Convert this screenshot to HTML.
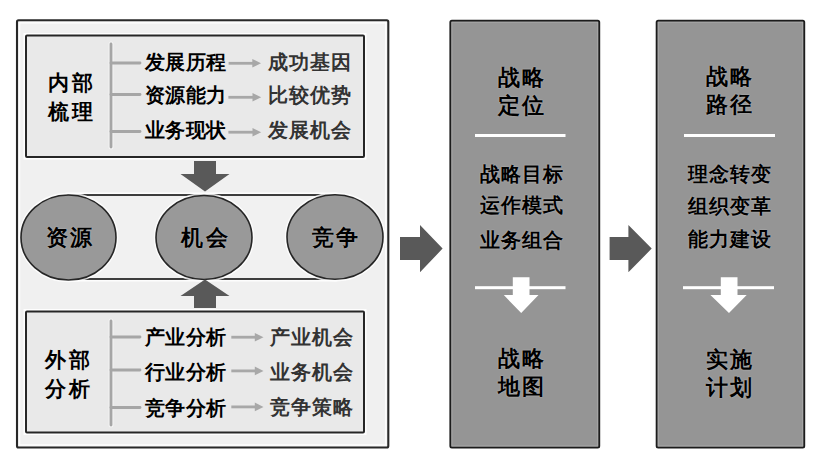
<!DOCTYPE html>
<html><head><meta charset="utf-8">
<style>
html,body{margin:0;padding:0;background:#fff;}
body{width:835px;height:463px;position:relative;overflow:hidden;font-family:"Liberation Sans",sans-serif;}
svg{position:absolute;left:0;top:0;}
.t{position:absolute;white-space:nowrap;font-weight:bold;color:#000;text-align:center;text-shadow:0 0 1.5px rgba(255,255,255,0.55);}
.r{font-size:20px;line-height:20px;}
.g{color:#333;letter-spacing:1px;}
.l{letter-spacing:0.4px;}
.s1{letter-spacing:1px;padding-left:0.5px;}
.s2{letter-spacing:2.5px;padding-left:1.25px;}
.s3{letter-spacing:3px;padding-left:1.5px;}
</style></head><body>
<svg width="835" height="463" viewBox="0 0 835 463">
  <!-- left outer box -->
  <rect x="17" y="20.3" width="371.3" height="427.2" rx="1.5" fill="#f0f0f0" stroke="#282828" stroke-width="2.1"/>
  <rect x="19.5" y="22.8" width="366.3" height="422.2" fill="none" stroke="#fff" stroke-width="1.5" opacity="0.85"/>
  <!-- inner boxes glow -->
  <g fill="none" stroke="#fff" stroke-width="5" opacity="0.9">
    <rect x="26" y="35.5" width="338" height="121.5"/>
    <rect x="26" y="311.5" width="338" height="121"/>
  </g>
  <!-- inner top box -->
  <rect x="26" y="35.5" width="338" height="121.5" rx="1" fill="#e9e9e9" stroke="#262626" stroke-width="2"/>
  <!-- inner bottom box -->
  <rect x="26" y="311.5" width="338" height="121" rx="1" fill="#e9e9e9" stroke="#262626" stroke-width="2"/>
  <!-- brackets top -->
  <g stroke="#fff" stroke-width="5" fill="none" opacity="0.5" stroke-linecap="round">
    <line x1="111" y1="44" x2="111" y2="147"/>
    <line x1="111" y1="321" x2="111" y2="425"/>
  </g>
  <g stroke="#a6a6a6" stroke-width="2.8" fill="none" stroke-linecap="round">
    <line x1="111" y1="44" x2="111" y2="147"/>
    <line x1="111" y1="63" x2="140" y2="63"/>
    <line x1="111" y1="94.5" x2="140" y2="94.5"/>
    <line x1="111" y1="131.5" x2="140" y2="131.5"/>
    <line x1="111" y1="321" x2="111" y2="425"/>
    <line x1="111" y1="337" x2="140" y2="337"/>
    <line x1="111" y1="370" x2="140" y2="370"/>
    <line x1="111" y1="407.5" x2="140" y2="407.5"/>
  </g>
  <!-- small gray arrows -->
  <g fill="#a8a8a8">
    <rect x="228.6" y="61.9" width="24.7" height="2.8"/>
    <path d="M252.3 59.0 L261 63.3 L252.3 67.6 Z"/>
    <rect x="228.4" y="95.9" width="25.1" height="2.8"/>
    <path d="M252.5 93.0 L261.2 97.3 L252.5 101.6 Z"/>
    <rect x="228.4" y="130.8" width="25.1" height="2.8"/>
    <path d="M252.5 127.9 L261.2 132.2 L252.5 136.5 Z"/>
    <rect x="231.3" y="335.8" width="24.5" height="2.8"/>
    <path d="M254.8 332.9 L263.5 337.2 L254.8 341.5 Z"/>
    <rect x="231.3" y="369.5" width="24.5" height="2.8"/>
    <path d="M254.8 366.6 L263.5 370.9 L254.8 375.2 Z"/>
    <rect x="231.3" y="405.5" width="24.5" height="2.8"/>
    <path d="M254.8 402.6 L263.5 406.9 L254.8 411.2 Z"/>
  </g>
  <!-- belt -->
  <rect x="68" y="195" width="267" height="84" fill="#f1f1f1" stroke="#fff" stroke-width="5" opacity="0.9"/>
  <rect x="68" y="195" width="267" height="84" fill="#f1f1f1" stroke="#2a2a2a" stroke-width="1.8"/>
  <!-- ellipses -->
  <g fill="none" stroke="#fff" stroke-width="4.5" opacity="0.8">
    <ellipse cx="68.5" cy="237.5" rx="47.5" ry="42.5"/>
    <ellipse cx="204" cy="237.5" rx="48" ry="42"/>
    <ellipse cx="335" cy="237" rx="48" ry="42.3"/>
  </g>
  <g fill="#999999" stroke="#262626" stroke-width="1.6">
    <ellipse cx="68.5" cy="237.5" rx="47.5" ry="42.5"/>
    <ellipse cx="204" cy="237.5" rx="48" ry="42"/>
    <ellipse cx="335" cy="237" rx="48" ry="42.3"/>
  </g>
  <!-- dark arrows -->
  <g fill="#595959">
    <path d="M194 161 H216 V174 H229.5 L205 191.5 L180.5 174 H194 Z"/>
    <path d="M194 308 H216 V296 H229.5 L205 279.5 L180.5 296 H194 Z"/>
    <path d="M400 237 H420 V225 L442.6 248.6 L420 272.3 V260 H400 Z"/>
    <path d="M609.6 237 H628.4 V225 L651.7 248.6 L628.4 272.3 V260 H609.6 Z"/>
  </g>
  <!-- right panels -->
  <rect x="450.4" y="20.7" width="148.8" height="426.8" rx="1.5" fill="#959595" stroke="#1c1c1c" stroke-width="2"/>
  <rect x="656.7" y="20.7" width="147.5" height="426.8" rx="1.5" fill="#959595" stroke="#1c1c1c" stroke-width="2"/>
  <g fill="none" stroke="#a8a8a8" stroke-width="1">
    <rect x="451.9" y="22.2" width="145.8" height="423.8"/>
    <rect x="658.2" y="22.2" width="144.5" height="423.8"/>
  </g>
  <!-- white lines -->
  <g fill="#fff">
    <rect x="475" y="134" width="90.5" height="3"/>
    <rect x="684" y="134" width="91" height="3"/>
    <rect x="475" y="286.2" width="90.5" height="3"/>
    <rect x="683" y="286.2" width="91" height="3"/>
    <path d="M512.8 277.2 H529.5 V295.1 H538.5 L521.2 312.9 L503.8 295.1 H512.8 Z"/>
    <path d="M720.8 277.2 H737.5 V295.1 H746.7 L729 312.9 L710.4 295.1 H720.8 Z"/>
  </g>
</svg>

<!-- left labels -->
<div class="t s3" style="left:40px;top:68px;width:60px;font-size:21px;line-height:29px;">内部<br>梳理</div>
<div class="t s3" style="left:37.5px;top:344.5px;width:60px;font-size:21px;line-height:29px;">外部<br>分析</div>

<!-- top rows -->
<div class="t r l" style="left:145px;top:52px;">发展历程</div>
<div class="t r l" style="left:145px;top:84.5px;">资源能力</div>
<div class="t r l" style="left:145px;top:120px;">业务现状</div>
<div class="t r g" style="left:268px;top:52px;">成功基因</div>
<div class="t r g" style="left:268px;top:84.5px;">比较优势</div>
<div class="t r g" style="left:268px;top:120px;">发展机会</div>

<!-- bottom rows -->
<div class="t r l" style="left:145px;top:326.5px;">产业分析</div>
<div class="t r l" style="left:145px;top:361.5px;">行业分析</div>
<div class="t r l" style="left:145px;top:397.5px;">竞争分析</div>
<div class="t r g" style="left:270px;top:326.5px;">产业机会</div>
<div class="t r g" style="left:270px;top:361.5px;">业务机会</div>
<div class="t r g" style="left:270px;top:397px;">竞争策略</div>

<!-- circle labels -->
<div class="t" style="left:29px;top:226.5px;width:80px;font-size:22px;line-height:22px;letter-spacing:2.5px;padding-left:1.25px;">资源</div>
<div class="t" style="left:164.5px;top:226.5px;width:80px;font-size:22px;line-height:22px;letter-spacing:2.5px;padding-left:1.25px;">机会</div>
<div class="t" style="left:295px;top:226.5px;width:80px;font-size:22px;line-height:22px;letter-spacing:2.5px;padding-left:1.25px;">竞争</div>

<!-- panel 1 -->
<div class="t s2" style="left:446px;top:64px;width:150px;font-size:22px;line-height:28px;">战略<br>定位</div>
<div class="t r s1" style="left:446px;top:164px;width:150px;">战略目标</div>
<div class="t r s1" style="left:446px;top:195px;width:150px;">运作模式</div>
<div class="t r s1" style="left:446px;top:230px;width:150px;">业务组合</div>
<div class="t s2" style="left:446px;top:345px;width:150px;font-size:22px;line-height:28px;">战略<br>地图</div>

<!-- panel 2 -->
<div class="t s2" style="left:654.5px;top:63px;width:149px;font-size:22px;line-height:28px;">战略<br>路径</div>
<div class="t r s1" style="left:654.5px;top:163.5px;width:149px;">理念转变</div>
<div class="t r s1" style="left:654.5px;top:195.5px;width:149px;">组织变革</div>
<div class="t r s1" style="left:654.5px;top:229px;width:149px;">能力建设</div>
<div class="t s2" style="left:654.5px;top:345.5px;width:149px;font-size:22px;line-height:28px;">实施<br>计划</div>
</body></html>
